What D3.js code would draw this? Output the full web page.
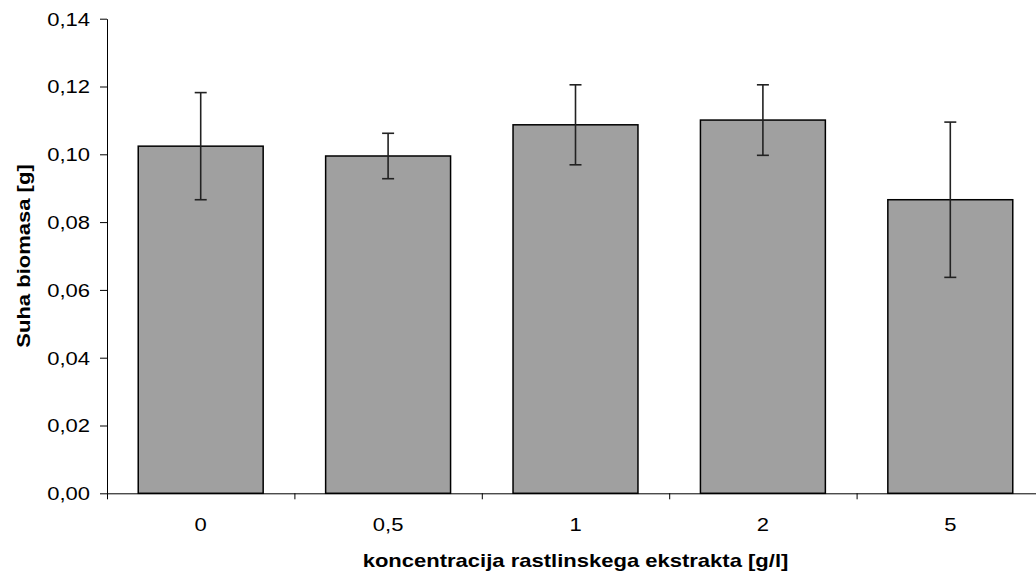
<!DOCTYPE html>
<html>
<head>
<meta charset="utf-8">
<script src="https://cdn.jsdelivr.net/npm/d3@7"></script>
<style>
    body { margin: 0; background: #fff; }
    svg text { font-family: "Liberation Sans", Arial, sans-serif; fill: #000; }
</style>
</head>
<body>
<div id="chart"></div>
<script>
// Data
const categories = ['0', '0,5', '1', '2', '5'];
const biomass = [0.1024, 0.0995, 0.1087, 0.1101, 0.0866];
const stdDev = [0.0158, 0.0067, 0.0118, 0.0104, 0.0229];
const yTicks = [0, 0.02, 0.04, 0.06, 0.08, 0.10, 0.12, 0.14];

const W = 1036, H = 575;
const plotLeft = 107, plotRight = 1044, plotTop = 18.7, plotBottom = 493.3;
const stretch = 1.19;   // the original text is drawn a little wide
const fontSize = 18.5;

const svg = d3.select('#chart')
    .append('svg')
    .attr('width', W)
    .attr('height', H);

// Scales
const x = d3.scaleBand()
    .domain(categories)
    .range([plotLeft, plotRight])
    .paddingInner(1 / 3)
    .paddingOuter(1 / 6);

const xEdges = d3.scaleLinear()
    .domain([0, categories.length])
    .range([plotLeft, plotRight]);

const y = d3.scaleLinear()
    .domain([0, 0.14])
    .range([plotBottom, plotTop]);

// Bars
svg.append('g')
    .selectAll('rect')
    .data(biomass)
    .join('rect')
    .attr('x', (d, i) => x(categories[i]))
    .attr('y', d => y(d))
    .attr('width', x.bandwidth())
    .attr('height', d => y(0) - y(d))
    .attr('fill', '#a0a0a0')
    .attr('stroke', '#000')
    .attr('stroke-width', 1.5);

// Error bars
const errG = svg.append('g')
    .attr('stroke', '#222')
    .attr('stroke-width', 1.6);

biomass.forEach((v, i) => {
    const cx = x(categories[i]) + x.bandwidth() / 2;
    const hi = y(v + stdDev[i]);
    const lo = y(v - stdDev[i]);
    errG.append('line').attr('x1', cx).attr('x2', cx).attr('y1', hi).attr('y2', lo);
    errG.append('line').attr('x1', cx - 6).attr('x2', cx + 6).attr('y1', hi).attr('y2', hi);
    errG.append('line').attr('x1', cx - 6).attr('x2', cx + 6).attr('y1', lo).attr('y2', lo);
});

// Y axis
const yAxis = svg.append('g')
    .attr('transform', `translate(${plotLeft},0)`)
    .call(d3.axisLeft(y)
        .tickValues(yTicks)
        .tickSize(7)
        .tickSizeOuter(0)
        .tickFormat(d => d.toFixed(2).replace('.', ',')));

yAxis.selectAll('text')
    .attr('x', -17 / stretch)
    .attr('dy', '0.35em')
    .attr('transform', `scale(${stretch},1)`)
    .style('font-size', fontSize + 'px');

// X axis: boundary ticks
svg.append('g')
    .attr('transform', `translate(0,${plotBottom})`)
    .call(d3.axisBottom(xEdges)
        .ticks(categories.length)
        .tickSize(6)
        .tickSizeOuter(0)
        .tickFormat(''));

// X axis: category labels
const xLabels = svg.append('g')
    .attr('transform', `translate(0,${plotBottom})`)
    .call(d3.axisBottom(x).tickSize(0));

xLabels.select('.domain').remove();
xLabels.selectAll('text')
    .attr('y', 38)
    .attr('dy', 0)
    .attr('transform', `scale(${stretch},1)`)
    .style('font-size', fontSize + 'px');

svg.selectAll('.domain, .tick line').attr('stroke', '#000');

// Axis titles
svg.append('text')
    .attr('transform', `translate(${(plotLeft + plotRight) / 2},567) scale(${stretch},1)`)
    .attr('text-anchor', 'middle')
    .style('font-size', fontSize + 'px')
    .style('font-weight', 'bold')
    .text('koncentracija rastlinskega ekstrakta [g/l]');

svg.append('text')
    .attr('transform', `translate(30,${(plotTop + plotBottom) / 2}) rotate(-90) scale(${stretch},1)`)
    .attr('text-anchor', 'middle')
    .style('font-size', fontSize + 'px')
    .style('font-weight', 'bold')
    .text('Suha biomasa [g]');
</script>
</body>
</html>
